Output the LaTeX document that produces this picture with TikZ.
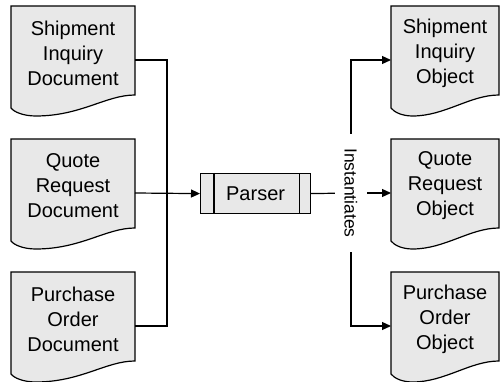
\documentclass[tikz,border=0pt]{standalone}
\usepackage{fontspec}
\setmainfont{Liberation Sans}
\usetikzlibrary{arrows.meta}

% Document symbol: flat top, wavy bottom; #1 name, #2 left, #3 top, #4 width, #5 text
\newcommand{\docsymbol}[5]{%
  \begin{scope}[shift={(#2,#3)}]
    \draw[docline] (0,0) -- (#4,0) -- (#4,89)
      .. controls (#4-29,89) and (#4-54,110) .. (#4*0.2,110)
      .. controls (#4*0.1,110) and (3,106) .. (0,102) -- cycle;
    \node[doctext] (#1) at (#4/2,47) {#5};
  \end{scope}}

\tikzset{
  docline/.style={draw=black, line width=1.2pt, fill=black!9},
  doctext/.style={font=\fontsize{20}{25}\selectfont, align=center, inner sep=0pt},
  wire/.style={draw=black, line width=1.2pt},
  arrowwire/.style={wire, -{Triangle[length=9pt,width=8pt]}},
  parserbox/.style={draw=black, line width=1.2pt, fill=black!9,
    minimum width=110pt, minimum height=40pt, inner sep=0pt,
    font=\fontsize{20}{25}\selectfont},
  verblabel/.style={fill=white, rotate=-90, inner xsep=14.5pt, inner ysep=10pt,
    font=\fontsize{17.5}{20}\selectfont}
}

\begin{document}
\begin{tikzpicture}[x=1pt,y=-1pt]
  \useasboundingbox (0,0) rectangle (501,382);

  % input documents
  \docsymbol{srcA}{11}{6}{124}{Shipment\\Inquiry\\Document}
  \docsymbol{srcB}{11}{139}{124}{Quote\\Request\\Document}
  \docsymbol{srcC}{11}{272}{124}{Purchase\\Order\\Document}

  % output objects
  \docsymbol{dstA}{391}{6}{108}{Shipment\\Inquiry\\Object}
  \docsymbol{dstB}{391}{139}{108}{Quote\\Request\\Object}
  \docsymbol{dstC}{391}{272}{108}{Purchase\\Order\\Object}

  % parser process box
  \node[parserbox, anchor=north west] (parser) at (200,173) {Parser};
  \draw[wire] ([xshift=14pt]parser.north west) -- ([xshift=14pt]parser.south west);
  \draw[wire] ([xshift=-12pt]parser.north east) -- ([xshift=-12pt]parser.south east);

  % connection points
  \coordinate (srcA-port) at (135,60);
  \coordinate (srcB-port) at (135,193);
  \coordinate (srcC-port) at (135,326);
  \coordinate (dstA-port) at (391,60);
  \coordinate (dstB-port) at (391,193);
  \coordinate (dstC-port) at (391,326);
  \coordinate (joinL) at (167,193);
  \coordinate (joinR) at (351,193);

  % inputs into the parser
  \draw[wire] (srcA-port) -| (joinL) |- (srcC-port);
  \draw[arrowwire] (srcB-port) -- (parser.west);

  % parser out to the objects
  \draw[wire] (parser.east) -- (joinR);
  \draw[arrowwire] (joinR) |- (dstA-port);
  \draw[arrowwire] (joinR) |- (dstC-port);
  \draw[arrowwire] (joinR) -- (dstB-port);
  \node[verblabel] (verb) at (joinR) {Instantiates};
\end{tikzpicture}
\end{document}
